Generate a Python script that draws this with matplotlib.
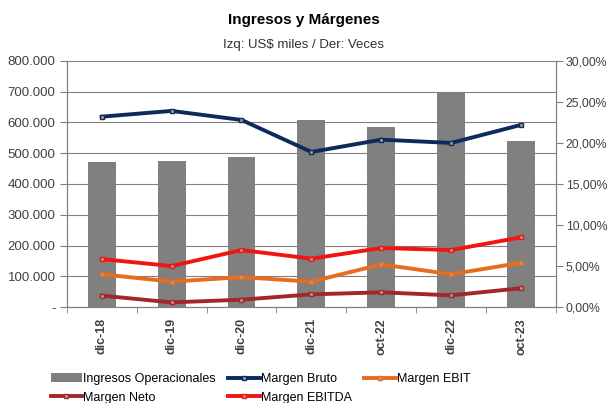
import numpy as np
import matplotlib.pyplot as plt
from matplotlib.ticker import FuncFormatter

plt.rcParams['font.family'] = ['Liberation Sans', 'DejaVu Sans']

periodos = ['dic-18', 'dic-19', 'dic-20', 'dic-21', 'oct-22', 'dic-22', 'oct-23']
ingresos = [471000, 475000, 488000, 608000, 586000, 699000, 538000]
margen_bruto = [23.2, 23.9, 22.8, 18.9, 20.4, 20.0, 22.2]
margen_ebit = [4.0, 3.1, 3.65, 3.1, 5.2, 4.0, 5.4]
margen_neto = [1.4, 0.57, 0.9, 1.55, 1.8, 1.43, 2.3]
margen_ebitda = [5.85, 5.0, 6.95, 5.9, 7.2, 6.95, 8.5]

x = np.arange(len(periodos))

fig = plt.figure(figsize=(6.07, 4.03), dpi=100)
ax = fig.add_axes([0.110, 0.238, 0.806, 0.611])
ax2 = ax.twinx()

# barras
ax.bar(x, ingresos, width=0.4, color='#808080', zorder=2, label='Ingresos Operacionales')
ax.set_ylim(0, 800000)
ax.set_xlim(-0.5, len(periodos) - 0.5)
ax.set_yticks(np.arange(0, 800001, 100000))
ax.yaxis.set_major_formatter(FuncFormatter(
    lambda v, p: '-' if v == 0 else f'{int(v):,}'.replace(',', '.')))
ax.grid(axis='y', color='#808080', linewidth=0.8, zorder=0)
ax.set_axisbelow(True)

# lineas
mk = dict(marker='s', markersize=3, markerfacecolor='#B0A090', linewidth=2.8)
l1, = ax2.plot(x, margen_bruto, color='#0E2A5C', markeredgecolor='#0E2A5C', label='Margen Bruto', **mk)
l2, = ax2.plot(x, margen_ebit, color='#E66C1F', markeredgecolor='#E66C1F', label='Margen EBIT', **mk)
l3, = ax2.plot(x, margen_neto, color='#A3262A', markeredgecolor='#A3262A', label='Margen Neto', **mk)
l4, = ax2.plot(x, margen_ebitda, color='#F01515', markeredgecolor='#F01515', label='Margen EBITDA', **mk)
ax2.set_ylim(0, 30)
ax2.set_yticks(np.arange(0, 31, 5))
ax2.yaxis.set_major_formatter(FuncFormatter(lambda v, p: f'{v:.2f}%'.replace('.', ',')))

# ejes
ax.set_xticks(x)
ax.set_xticklabels(periodos, rotation=90, fontsize=9, fontweight='bold', color='#404040')
ax.set_xticks(np.arange(-0.5, len(periodos)), minor=True)
ax.tick_params(axis='x', which='major', length=0, pad=8)
ax.tick_params(axis='x', which='minor', length=4, color='#808080')
ax.tick_params(axis='y', length=5, color='#808080', labelsize=9.5, labelcolor='#404040', pad=3)
ax2.tick_params(axis='y', length=5, color='#808080', labelsize=8.8, labelcolor='#404040', pad=2)
for a in (ax, ax2):
    for s in a.spines.values():
        s.set_color('#808080')
    a.spines['top'].set_visible(False)

fig.text(0.5, 0.950, 'Ingresos y Márgenes', ha='center', va='center', fontsize=11, fontweight='bold')
fig.text(0.5, 0.888, 'Izq: US$ miles / Der: Veces', ha='center', va='center', fontsize=9.5, color='#303030')

handles = [ax.containers[0], l1, l2, l3, l4]
labels = ['Ingresos Operacionales', 'Margen Bruto', 'Margen EBIT', 'Margen Neto', 'Margen EBITDA']
order = [0, 3, 1, 4, 2]
fig.legend([handles[i] for i in order], [labels[i] for i in order], ncol=3,
           loc='lower left', bbox_to_anchor=(0.065, -0.03), frameon=False, fontsize=9,
           handlelength=2.5, handletextpad=0.1, columnspacing=1.0, labelspacing=0.55)

fig.savefig('out.png', dpi=100)
